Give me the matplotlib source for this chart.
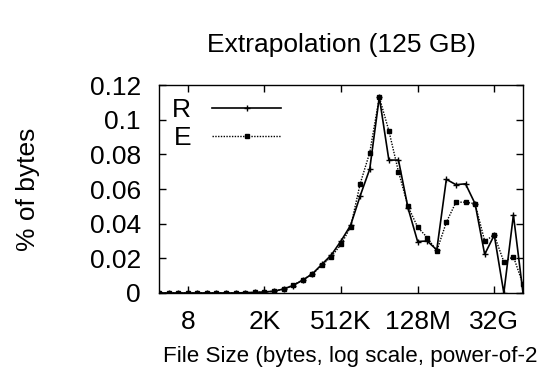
import matplotlib
matplotlib.use("Agg")
import matplotlib.pyplot as plt
import numpy as np

# file size bins: powers of two, 2^0 .. 2^38
size_exponents = list(range(39))

# fraction of bytes per bin
r_values = [0, 0, 0, 0, 0, 0, 0, 0, 0, 0.0002, 0.0003, 0.0006,
            0.001, 0.0023, 0.0043, 0.0074, 0.011, 0.0165, 0.022, 0.030,
            0.039, 0.056, 0.0715, 0.113, 0.0767, 0.0767, 0.049, 0.0297,
            0.030, 0.0249, 0.0656, 0.0625, 0.063, 0.0515, 0.0223, 0.0334,
            0.0, 0.045, 0.0]
e_values = [0, 0, 0, 0, 0, 0, 0, 0, 0, 0.0002, 0.0003, 0.0006,
            0.001, 0.0023, 0.0045, 0.0076, 0.0108, 0.016, 0.021, 0.028,
            0.038, 0.063, 0.081, 0.113, 0.0936, 0.070, 0.050, 0.038,
            0.032, 0.0243, 0.0408, 0.0524, 0.0524, 0.0515, 0.030, 0.0334,
            0.018, 0.021, 0.005]

tick_exponents = [3, 11, 19, 27, 35]
tick_labels = ["8", "2K", "512K", "128M", "32G"]
y_ticks = [0, 0.02, 0.04, 0.06, 0.08, 0.1, 0.12]
y_tick_labels = ["0", "0.02", "0.04", "0.06", "0.08", "0.1", "0.12"]

plt.rcParams["font.family"] = ["Liberation Sans", "DejaVu Sans"]

fig = plt.figure(figsize=(5.4, 3.78), dpi=100)
ax = fig.add_axes([0.2944, 0.2249, 0.6741, 0.5501])

sizes = 2.0 ** np.array(size_exponents)
ax.plot(sizes, r_values, color="black", linestyle="-", linewidth=1.2,
        marker="+", markersize=5, markeredgewidth=1, label="R")
ax.plot(sizes, e_values, color="black", linestyle=(0, (1, 1)), linewidth=1.0,
        marker="s", markersize=3, label="E")

ax.set_xscale("log", base=2)
ax.set_xlim(2.0 ** 0, 2.0 ** 38)
ax.set_ylim(0, 0.12)
ax.set_xticks(2.0 ** np.array(tick_exponents))
ax.set_xticklabels(tick_labels)
ax.xaxis.set_minor_locator(matplotlib.ticker.NullLocator())
ax.set_yticks(y_ticks)
ax.set_yticklabels(y_tick_labels)

ax.tick_params(axis="both", direction="in", length=5, width=1,
               top=True, right=True, labelsize=19)
ax.tick_params(axis="x", pad=12)
ax.tick_params(axis="y", pad=13)
for s in ax.spines.values():
    s.set_linewidth(1)
    s.set_color("black")

ax.set_title("Extrapolation (125 GB)", fontsize=19, pad=24)
ax.set_ylabel("% of bytes", fontsize=19, labelpad=36)
# x label is cut by the right edge in the original; keep the visible part
fig.text(0.302, 0.056, "File Size (bytes, log scale, power-of-2",
         fontsize=16.1, ha="left", va="center")

ax.legend(loc="upper left", bbox_to_anchor=(0.0, 1.0), frameon=False,
          markerfirst=False, fontsize=19, handlelength=2.6,
          handletextpad=0.8, borderaxespad=0.2, labelspacing=0.15,
          borderpad=0.3)

fig.savefig("out.png", dpi=100)
